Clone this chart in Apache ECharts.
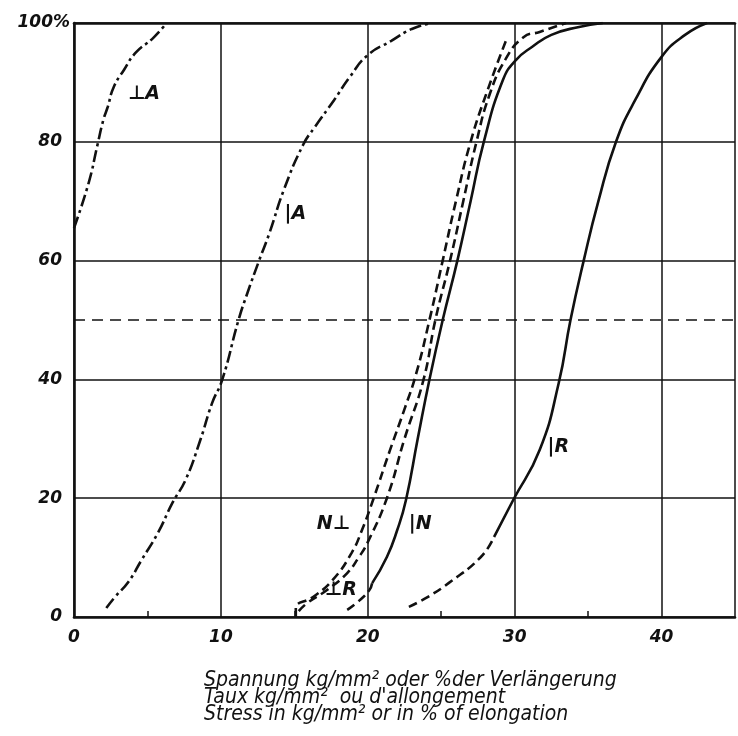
<!DOCTYPE html>
<html>
<head>
<meta charset="utf-8">
<script src="https://cdn.jsdelivr.net/npm/echarts@6/dist/echarts.min.js"></script>
<style>
html,body{margin:0;padding:0;background:#fff;}
#chart{width:738px;height:736px;}
</style>
</head>
<body>
<div id="chart"></div>
<script>
// ---- data ----
var xTicks = [0, 10, 20, 30, 40];
var yTicks = [0, 20, 40, 60, 80, 100];

// ⊥A  (dash-dot)
var perpA_x = [0, 1.0, 1.6, 2.0, 2.3, 2.7, 3.4, 4.2, 5.4, 6.3];
var perpA_y = [65.5, 73.1, 79.5, 83.7, 85.9, 89.2, 92.1, 95.0, 97.5, 100];

// |A  (dash-dot)
var parA_x = [2.2, 2.8, 3.7, 4.6, 5.7, 6.7, 7.6, 8.6, 9.4, 10.1, 11.2, 11.8, 12.6, 13.3, 14.3, 15.6, 16.4, 17.7, 18.8, 20.0, 21.6, 23.0, 24.3];
var parA_y = [1.5, 3.4, 5.9, 9.6, 14.1, 19.2, 23.1, 29.8, 36.0, 40, 50, 54.5, 60, 64.6, 72, 79.5, 82.5, 87, 91, 94.6, 97.0, 99.0, 100];

// N⊥  (dashed)
var perpN_x = [15.1, 15.1, 16.3, 17.6, 18.9, 19.6, 20.4, 21.5, 22.5, 23.3, 24.2, 25.1, 26.0, 27.0, 28.2, 29.5];
var perpN_y = [0, 1.5, 3.4, 6.2, 10.8, 14.6, 20, 28, 35, 41, 50, 60, 70, 80, 89, 97.6];

// ⊥R  (dashed)
var perpR_x = [15.3, 15.9, 17.2, 18.6, 19.4, 20.0, 21.3, 22.5, 23.8, 24.6, 25.6, 26.5, 27.4, 28.3, 29.4, 30.6, 31.7, 33.5];
var perpR_y = [1.0, 2.4, 4.5, 7.4, 10.1, 12.6, 20, 30, 40, 50, 60, 70, 80, 88, 94, 97.6, 98.5, 100];

// |N  (dashed foot, solid body)
var parN_foot_x = [18.6, 19.3, 20.1, 20.3];
var parN_foot_y = [1.2, 2.5, 4.5, 5.7];
var parN_x = [20.3, 21.3, 22.0, 22.6, 23.4, 24.2, 25.1, 26.1, 27.0, 27.9, 29.2, 30.1, 31.2, 32.5, 34.3, 36.0];
var parN_y = [5.7, 10.1, 14.6, 19.7, 30, 40, 50, 60, 70, 80, 90.4, 93.8, 96, 98, 99.3, 100];

// |R  (dashed foot, solid body)
var parR_foot_x = [22.8, 24.1, 25.5, 27.7, 28.6];
var parR_foot_y = [1.7, 3.4, 5.7, 10.1, 13.5];
var parR_x = [28.6, 29.9, 31.7, 33.0, 33.8, 34.7, 35.7, 36.9, 38.2, 40.0, 41.6, 43.1];
var parR_y = [13.5, 19.7, 28.1, 39.4, 50, 60, 70, 80, 87, 94.3, 98, 100];

// curve labels
var labelX = [4.8, 15.1, 17.7, 18.2, 23.6, 33.0];
var labelY = [87.9, 67.7, 15.5, 4.5, 15.5, 28.6];
var labelText = ['\u22A5A', '|A', 'N\u22A5', '\u22A5R', '|N', '|R'];

var titleLines = [
  'Spannung kg/mm\u00B2 oder %der Verl\u00E4ngerung',
  'Taux kg/mm\u00B2  ou d\'allongement',
  'Stress in kg/mm\u00B2 or in % of elongation'
];

// ---- helpers ----
function pairs(xs, ys) { return xs.map(function (x, i) { return [x, ys[i]]; }); }
var INK = '#111';
var DASH = [9, 5];
var DASHDOT = [12, 4, 3, 4];
function curve(name, xs, ys, type, extra) {
  var s = {
    name: name, type: 'line', data: pairs(xs, ys), smooth: 0.5,
    symbol: 'none', silent: true,
    lineStyle: { color: INK, width: 2.6, type: type, cap: 'butt' },
    z: 5
  };
  if (extra) for (var k in extra) s[k] = extra[k];
  return s;
}

var chart = echarts.init(document.getElementById('chart'), null, { renderer: 'canvas' });
var tickFont = { fontFamily: 'DejaVu Sans', fontStyle: 'italic', fontWeight: 'bold', fontSize: 17, color: INK };

var option = {
  backgroundColor: '#fff',
  animation: false,
  grid: { left: 74, top: 23, width: 668, height: 594, containLabel: false },
  xAxis: [{
    type: 'value', min: 0, max: 45, interval: 10,
    axisLine: { show: true, onZero: false, lineStyle: { color: INK, width: 2.6 } },
    axisTick: { show: false, inside: true },
    minorTick: { show: true, splitNumber: 2, length: 6, lineStyle: { color: INK, width: 1.5 } },
    splitLine: { show: true, lineStyle: { color: INK, width: 1.5 } },
    axisLabel: Object.assign({
      margin: 12,
      formatter: function (v) { return xTicks.indexOf(v) >= 0 ? String(v) : ''; }
    }, tickFont)
  }, {
    type: 'value', min: 0, max: 45, position: 'top',
    axisLine: { show: true, onZero: false, lineStyle: { color: INK, width: 2.6 } },
    axisTick: { show: false }, axisLabel: { show: false }, splitLine: { show: false }
  }],
  yAxis: {
    type: 'value', min: 0, max: 100, interval: 20,
    axisLine: { show: true, onZero: false, lineStyle: { color: INK, width: 2.6 } },
    axisTick: { show: false },
    splitLine: { show: true, lineStyle: { color: INK, width: 1.5 } },
    axisLabel: Object.assign({
      margin: 4,
      formatter: function (v) {
        if (yTicks.indexOf(v) < 0) return '';
        return v === 100 ? '{p|100%}' : '{n|' + v + '}';
      },
      rich: {
        p: Object.assign({ padding: [0, 0, 0, 0] }, tickFont),
        n: Object.assign({ padding: [0, 8, 0, 0] }, tickFont)
      }
    }, tickFont)
  },
  series: [
    curve('perpA', perpA_x, perpA_y, DASHDOT, {
      markLine: {
        silent: true, symbol: 'none', label: { show: false },
        lineStyle: { color: INK, width: 1.6, type: [11, 7] },
        data: [{ yAxis: 50 }]
      }
    }),
    curve('parA', parA_x, parA_y, DASHDOT),
    curve('perpN', perpN_x, perpN_y, DASH),
    curve('perpR', perpR_x, perpR_y, DASH),
    curve('parN_foot', parN_foot_x, parN_foot_y, DASH),
    curve('parN', parN_x, parN_y, 'solid'),
    curve('parR_foot', parR_foot_x, parR_foot_y, DASH),
    curve('parR', parR_x, parR_y, 'solid'),
    {
      type: 'scatter', symbol: 'circle', symbolSize: 1, silent: true, z: 6,
      itemStyle: { color: 'rgba(0,0,0,0)', opacity: 1 },
      data: labelX.map(function (x, i) { return { value: [x, labelY[i]], name: labelText[i] }; }),
      label: {
        show: true, position: [0, 0], align: 'center', verticalAlign: 'middle',
        formatter: function (p) { return p.name; },
        fontFamily: 'DejaVu Sans', fontStyle: 'italic', fontWeight: 'bold', fontSize: 19,
        color: '#111', opacity: 1, textBorderWidth: 0
      }
    }
  ],
  graphic: titleLines.map(function (t, i) {
    return {
      type: 'text', left: 204, top: 670 + i * 17,
      style: { text: t, font: 'italic 21px "DejaVu Sans Condensed"', fill: INK }
    };
  })
};
chart.setOption(option);
</script>
</body>
</html>
